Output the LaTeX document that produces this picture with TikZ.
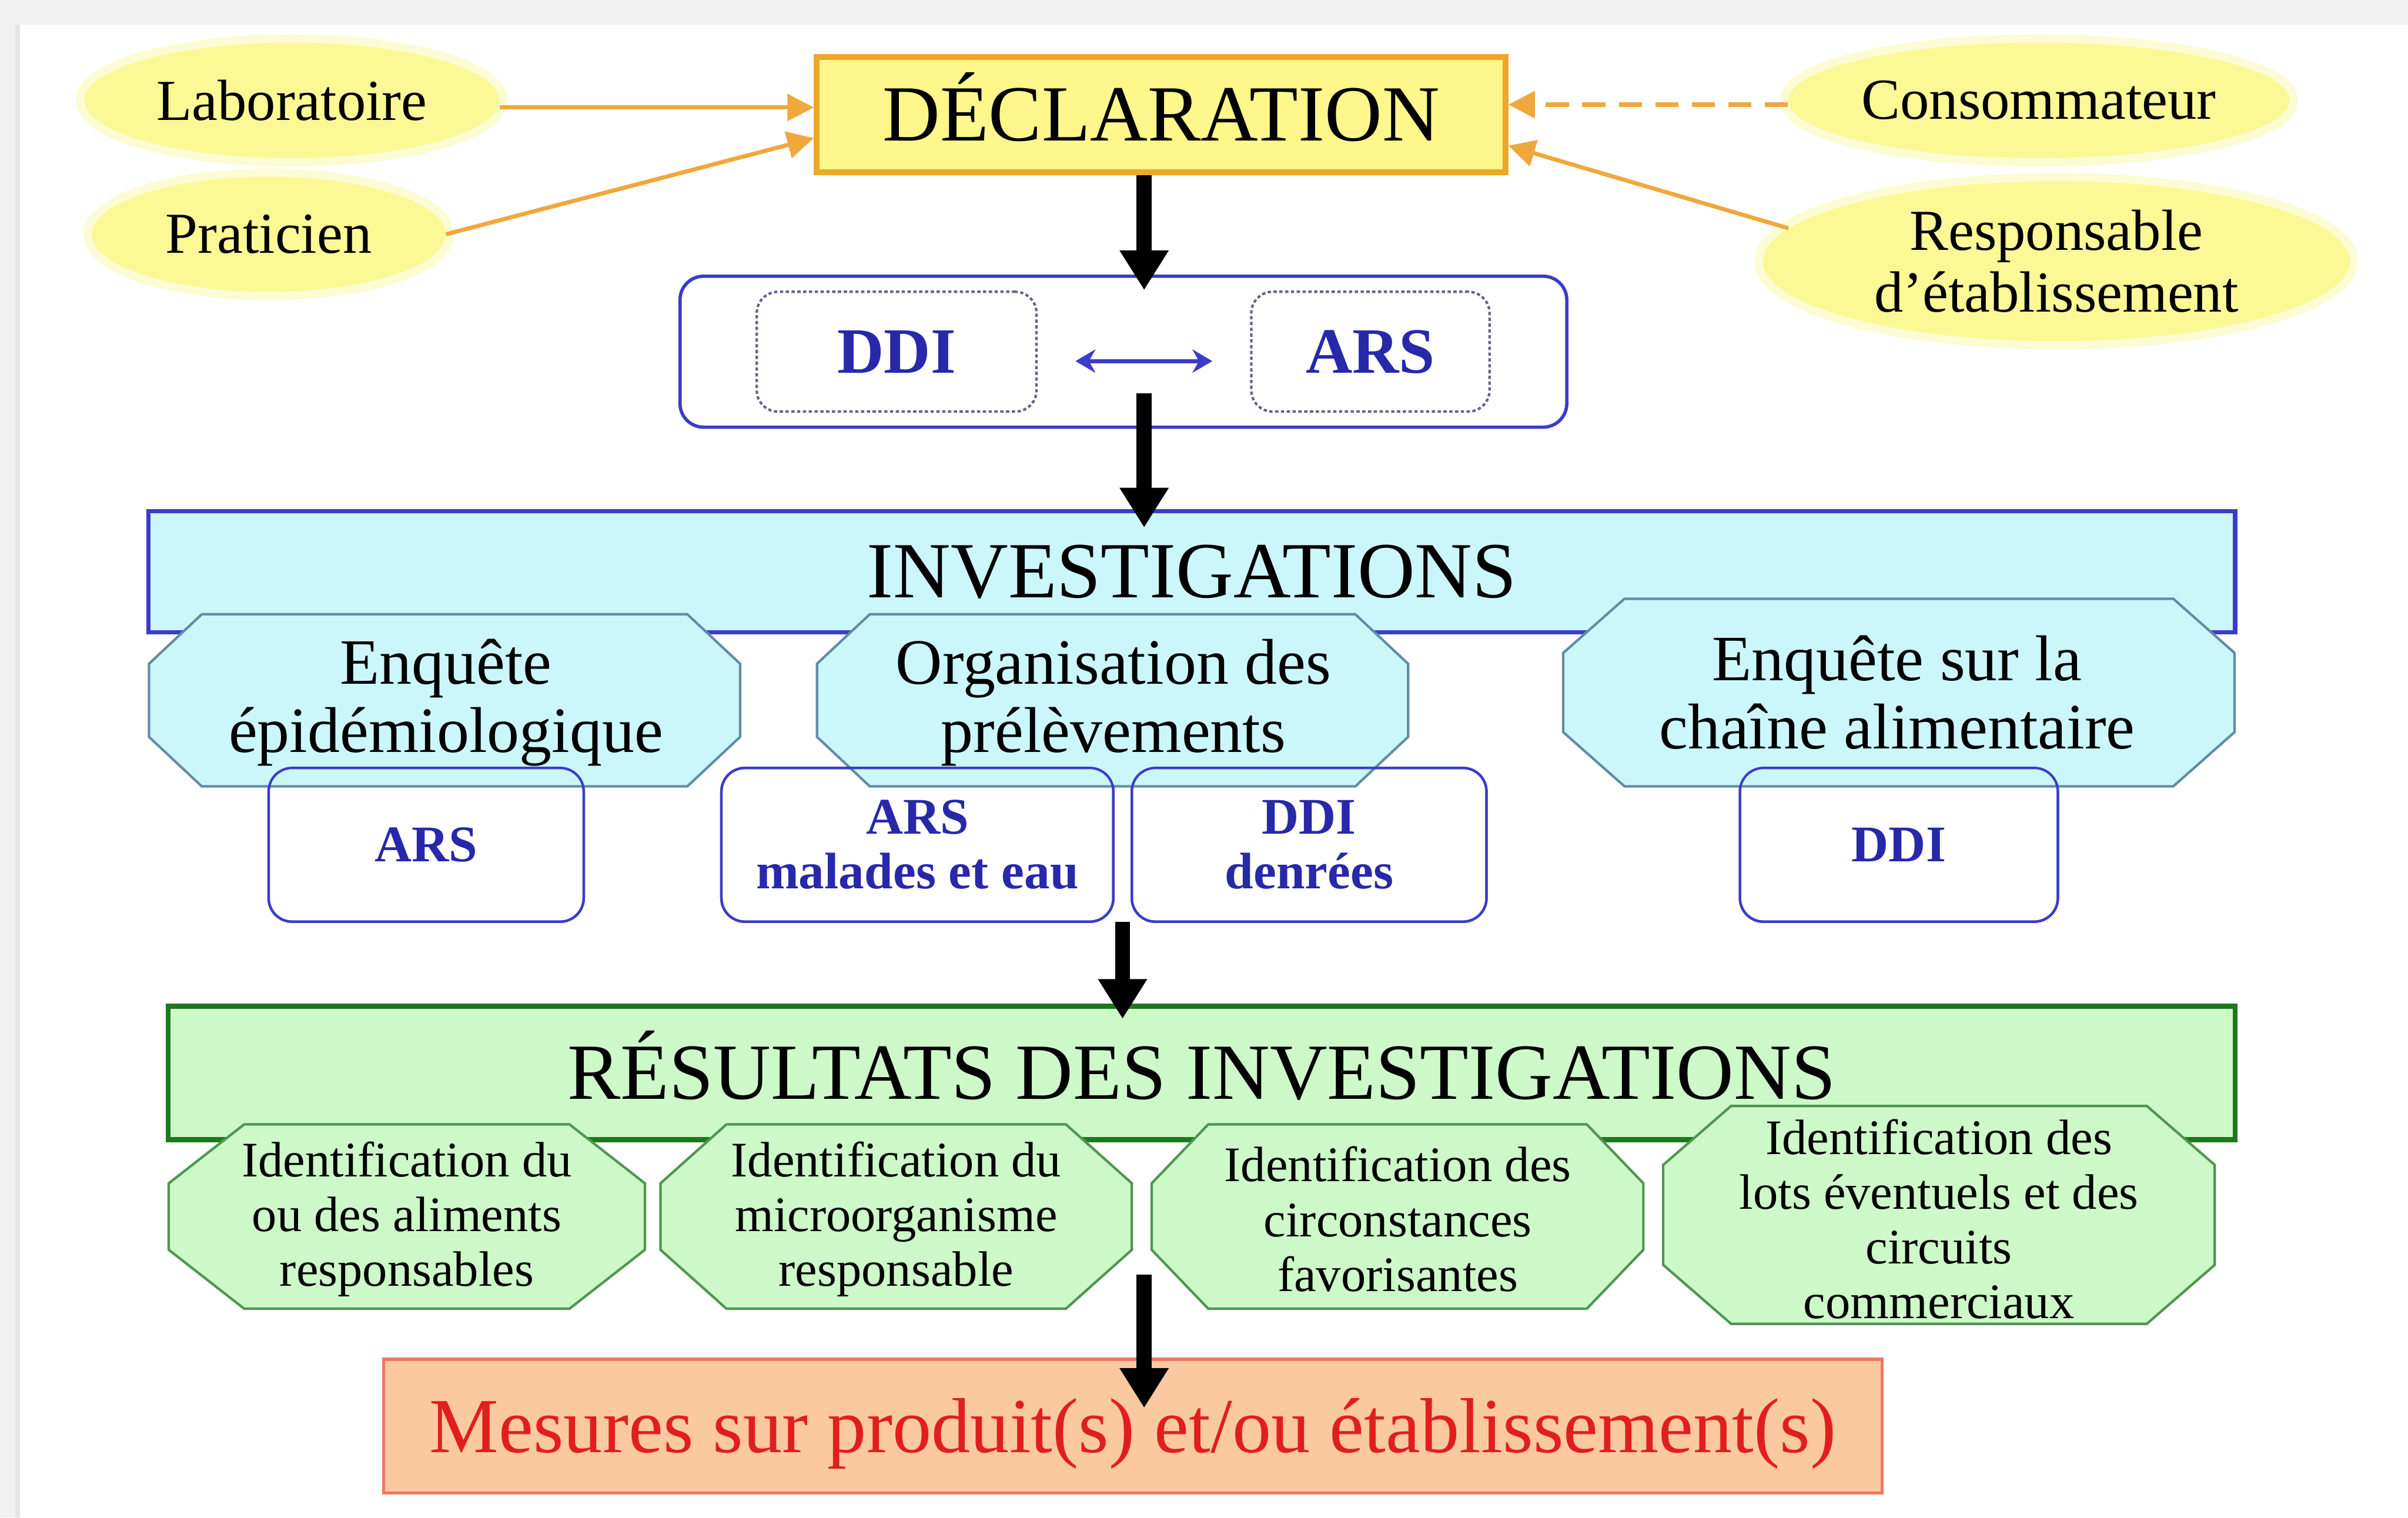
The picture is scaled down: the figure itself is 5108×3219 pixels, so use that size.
\documentclass[tikz,border=0pt]{standalone}
\usepackage{fontspec}
\setmainfont{Liberation Serif}
\usetikzlibrary{shapes.geometric,arrows.meta,calc}
\definecolor{ellY}{RGB}{250,249,150}
\definecolor{ellH}{RGB}{252,252,212}
\definecolor{decF}{RGB}{255,246,140}
\definecolor{decB}{RGB}{236,168,40}
\definecolor{oarrC}{RGB}{240,168,60}
\definecolor{blueB}{RGB}{60,60,200}
\definecolor{blueT}{RGB}{40,40,170}
\definecolor{dotB}{RGB}{100,100,140}
\definecolor{cyanF}{RGB}{204,247,250}
\definecolor{cyanB}{RGB}{100,140,165}
\definecolor{greenF}{RGB}{205,248,200}
\definecolor{greenB}{RGB}{30,120,30}
\definecolor{greenO}{RGB}{80,150,80}
\definecolor{mesF}{RGB}{251,201,160}
\definecolor{mesB}{RGB}{236,120,100}
\definecolor{mesT}{RGB}{225,30,30}
\definecolor{bandG}{RGB}{241,241,241}
\definecolor{bandL}{RGB}{228,228,228}
\newcommand\octag[7]{\draw[#1] (#2+#6,#3) -- (#4-#6,#3) -- (#4,#3+#7) -- (#4,#5-#7) -- (#4-#6,#5) -- (#2+#6,#5) -- (#2,#5-#7) -- (#2,#3+#7) -- cycle;}
\begin{document}
\begin{tikzpicture}[x=0.01cm,y=-0.01cm,
  ell/.style={ellipse, fill=ellY, inner sep=0pt, preaction={draw=ellH, line width=10pt}, font=\fontsize{35}{37}\selectfont, align=center},
  decbox/.style={rectangle, fill=decF, draw=decB, line width=3.5pt, minimum width=14.6cm, minimum height=2.44cm, text height=31.7pt, text depth=0pt, font=\fontsize{48}{50}\selectfont},
  oarr/.style={draw=oarrC, line width=2.5pt, -{Triangle[width=16pt,length=16pt]}},
  barr/.style={draw=black, line width=9pt, -{Triangle[width=28pt,length=24pt]}},
  darr/.style={draw=blueB, line width=2.5pt, {Stealth[width=14pt,length=12pt]}-{Stealth[width=14pt,length=12pt]}, shorten >=0.8cm, shorten <=0.8cm},
  bigbox/.style={rectangle, rounded corners=0.5cm, draw=blueB, line width=2pt, fill=white},
  dotbox/.style={rectangle, rounded corners=0.45cm, draw=dotB, line width=1.5pt, dash pattern=on 2pt off 1.5pt, fill=white, text=blueT, font=\bfseries\fontsize{39}{42}\selectfont},
  invbox/.style={rectangle, fill=cyanF, draw=blueB, line width=2.5pt, font=\fontsize{48}{50}\selectfont},
  cyanoct/.style={fill=cyanF, draw=cyanB, line width=1.5pt},
  ctext/.style={align=center, font=\fontsize{39}{41}\selectfont},
  sbox/.style={rectangle, rounded corners=0.5cm, draw=blueB, line width=1.5pt, fill=white, outer sep=0pt, align=center, text=blueT, font=\bfseries\fontsize{31}{33}\selectfont},
  sboxline/.style={draw=blueB, line width=1.5pt, rounded corners=0.5cm},
  resbox/.style={rectangle, fill=greenF, draw=greenB, line width=3pt, text height=31.7pt, text depth=0pt, font=\fontsize{48}{50}\selectfont},
  greenoct/.style={fill=greenF, draw=greenO, line width=1.5pt},
  gtext/.style={align=center, font=\fontsize{30}{33}\selectfont},
  mesbox/.style={rectangle, fill=mesF, draw=mesB, line width=2pt, text=mesT, text height=32pt, text depth=0pt, font=\fontsize{47}{50}\selectfont}
]
\useasboundingbox (0,0) rectangle (5108,3219);
\fill[white] (0,0) rectangle (5108,3219);
\fill[bandG] (0,0) rectangle (5108,53);
\fill[bandG] (0,0) rectangle (43,3219);
\fill[bandL] (33,53) rectangle (43,3219);

% sources
\node[ell, minimum width=8.8cm, minimum height=2.45cm] (lab) at (619,213) {Laboratoire};
\node[ell, minimum width=7.5cm, minimum height=2.44cm] (prat) at (570,497) {Praticien};
\node[ell, minimum width=9.6cm, minimum height=2.45cm] (cons) at (4325,213) {Consommateur};
\node[ell, minimum width=12.44cm, minimum height=3.39cm] (resp) at (4362,554) {Responsable\\d’établissement};

\node[decbox] (dec) at (2463,243) {DÉCLARATION};

\draw[oarr] ($(lab.east)+(0,15)$) -- ($(dec.west)+(0,-15)$);
\draw[oarr] (prat.east) -- ($(dec.west)+(0,50)$);
\draw[oarr, dash pattern=on 14pt off 8pt] ($(cons.west)+(0,9)$) -- ($(dec.east)+(0,-21)$);
\draw[oarr] (resp.173) -- ($(dec.east)+(0,66)$);

% DDI / ARS
\node[bigbox, minimum width=18.8cm, minimum height=3.2cm] (dd) at (2383,746) {};
\node[dotbox, minimum width=5.93cm, minimum height=2.54cm] (ddi) at (1902,746) {DDI};
\node[dotbox, minimum width=5.05cm, minimum height=2.54cm] (ars) at (2907,746) {ARS};
\draw[darr] ($(ddi.east)+(0,20)$) -- ($(ars.west)+(0,20)$);

% investigations
\node[invbox, minimum width=44.24cm, minimum height=2.57cm] (inv) at (2528,1213) {INVESTIGATIONS};

\coordinate (ax) at (2427,0);
\draw[barr] (dec.south -| ax) -- ($(dd.north -| ax)+(0,33)$);
\draw[barr] ($(dd.south -| ax)+(0,-75)$) -- ($(inv.north -| ax)+(0,39)$);

\node[sbox, minimum width=6.68cm, minimum height=3.26cm] (s1) at (904,1792) {ARS};
\node[sbox, minimum width=8.31cm, minimum height=3.26cm] (s2) at (1946,1792) {ARS\\malades et eau};
\node[sbox, minimum width=7.52cm, minimum height=3.26cm] (s3) at (2777,1792) {DDI\\denrées};
\node[sbox, minimum width=6.74cm, minimum height=3.26cm] (s4) at (4028,1792) {DDI};

\octag{cyanoct}{316}{1303}{1570}{1668}{112}{105}
\octag{cyanoct}{1733}{1303}{2987}{1668}{112}{105}
\octag{cyanoct}{3316}{1270}{4740}{1668}{130}{115}
\node[ctext] (c1) at (946,1490) {Enquête\\épidémiologique};
\node[ctext] (c2) at (2362,1490) {Organisation des\\prélèvements};
\node[ctext] (c3) at (4024,1469) {Enquête sur la\\chaîne alimentaire};
\foreach \n in {s1,s2,s3,s4} \draw[sboxline] (\n.north west) rectangle (\n.south east);

% results
\node[resbox, minimum width=43.82cm, minimum height=2.83cm] (res) at (2549,2276) {RÉSULTATS DES INVESTIGATIONS};
\coordinate (a3top) at ($(s2.south east)!0.5!(s3.south west)$);
\draw[barr] (a3top) -- ($(a3top |- res.north)+(0,32)$);

\octag{greenoct}{358}{2385}{1368}{2776}{160}{125}
\octag{greenoct}{1401}{2385}{2401}{2776}{140}{125}
\octag{greenoct}{2443}{2385}{3486}{2776}{120}{125}
\octag{greenoct}{3528}{2346}{4698}{2808}{144}{125}
\node[gtext] (g1) at (863,2586) {Identification du\\ou des aliments\\responsables};
\node[gtext] (g2) at (1901,2586) {Identification du\\microorganisme\\responsable};
\node[gtext] (g3) at (2965,2586) {Identification des\\circonstances\\favorisantes};
\node[gtext] (g4) at (4113,2586) {Identification des\\lots éventuels et des\\circuits\\commerciaux};

% measures
\node[mesbox, minimum width=31.77cm, minimum height=2.84cm] (mes) at (2403,3025) {Mesures sur produit(s) et/ou établissement(s)};
\coordinate (a4top) at (2427,2704);
\draw[barr] (a4top) -- ($(a4top |- mes.north)+(0,107)$);
\end{tikzpicture}
\end{document}
